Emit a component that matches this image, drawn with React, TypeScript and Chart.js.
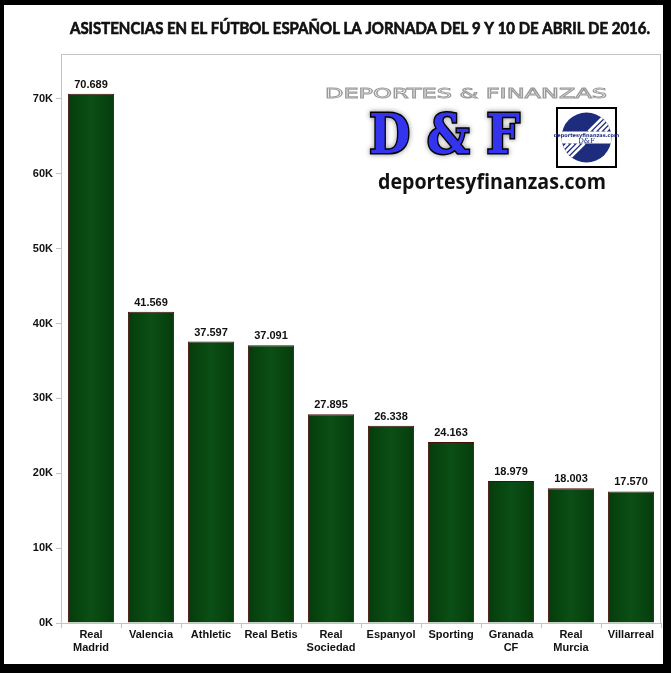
import React, { useEffect, useRef } from "react";
import { Chart, registerables } from "chart.js";
Chart.register(...registerables);

const TITLE = "ASISTENCIAS EN EL FÚTBOL ESPAÑOL LA JORNADA DEL 9 Y 10 DE ABRIL DE 2016.";
const teams: string[][] = [
  ["Real", "Madrid"],
  ["Valencia"],
  ["Athletic"],
  ["Real Betis"],
  ["Real", "Sociedad"],
  ["Espanyol"],
  ["Sporting"],
  ["Granada", "CF"],
  ["Real", "Murcia"],
  ["Villarreal"],
];
const attendance = [70689, 41569, 37597, 37091, 27895, 26338, 24163, 18979, 18003, 17570];
const yTickValues = [0, 10000, 20000, 30000, 40000, 50000, 60000, 70000];
const Y_MAX = 76000;
const brandTop = "DEPORTES & FINANZAS";
const brandMid = "D & F";
const brandUrl = "deportesyfinanzas.com";
const logoTiny = "deportesyfinanzas.com";
const logoMark = "D&F";

const W = 671;
const H = 673;
const FONT = '"Liberation Sans", Arial, sans-serif';

function fmt(n: number): string {
  return String(n).replace(/\B(?=(\d{3})+(?!\d))/g, ".");
}

function fitText(ctx: CanvasRenderingContext2D, text: string, x: number, y: number, width: number, mode: "fill" | "stroke" | "both") {
  const m = ctx.measureText(text).width;
  const sx = width / m;
  ctx.save();
  ctx.translate(x, y);
  ctx.scale(sx, 1);
  if (mode === "fill" || mode === "both") ctx.fillText(text, 0, 0);
  if (mode === "stroke" || mode === "both") ctx.strokeText(text, 0, 0);
  ctx.restore();
}

const framePlugin = {
  id: "frame",
  beforeDraw(chart: any) {
    const ctx = chart.ctx as CanvasRenderingContext2D;
    ctx.save();
    ctx.fillStyle = "#000";
    ctx.fillRect(0, 0, W, H);
    ctx.fillStyle = "#fff";
    ctx.fillRect(4, 5, 659, 659);
    ctx.restore();
  },
  afterDraw(chart: any) {
    const ctx = chart.ctx as CanvasRenderingContext2D;
    const a = chart.chartArea;
    ctx.save();
    ctx.strokeStyle = "#c4c4c4";
    ctx.lineWidth = 1;
    ctx.strokeRect(Math.round(a.left) + 0.5, Math.round(a.top) + 0.5, Math.round(a.right - a.left) - 1, Math.round(a.bottom - a.top));
    // title
    ctx.fillStyle = "#111";
    ctx.strokeStyle = "#111";
    ctx.lineWidth = 0.7;
    ctx.font = 'bold 17px Lato, "Open Sans", sans-serif';
    ctx.textBaseline = "alphabetic";
    fitText(ctx, TITLE, 70, 34, 580, "both");

    // watermark: top line
    ctx.font = '14px "DejaVu Sans", sans-serif';
    ctx.strokeStyle = "#9a9a9a";
    ctx.lineWidth = 0.9;
    ctx.fillStyle = "#fff";
    fitText(ctx, brandTop, 325, 98, 282, "both");

    // D & F
    ctx.font = 'bold 54px "DejaVu Serif", serif';
    const g = ctx.createLinearGradient(0, 112, 0, 154);
    g.addColorStop(0, "#3434ee");
    g.addColorStop(1, "#0b0bb4");
    ctx.fillStyle = g;
    ctx.strokeStyle = "#000";
    ctx.lineWidth = 3;
    ctx.save();
    ctx.shadowColor = "rgba(0,0,0,0.5)";
    ctx.shadowBlur = 5;
    fitText(ctx, brandMid, 369, 153, 151, "stroke");
    ctx.restore();
    fitText(ctx, brandMid, 369, 153, 151, "fill");

    // logo box
    ctx.fillStyle = "#fff";
    ctx.fillRect(556, 107, 61, 61);
    ctx.strokeStyle = "#000";
    ctx.lineWidth = 2;
    ctx.strokeRect(557, 108, 59, 59);
    const cx = 586.5, cy = 137.5, r = 25;
    ctx.save();
    ctx.beginPath();
    ctx.arc(cx, cy, r, 0, Math.PI * 2);
    ctx.fillStyle = "#1d2c7c";
    ctx.fill();
    ctx.clip();
    ctx.strokeStyle = "#fff";
    ctx.lineWidth = 2.5;
    for (let i = 0; i < 4; i++) {
      const o = i * 5.5;
      ctx.beginPath();
      ctx.moveTo(cx + 2 + o, cy - 6);
      ctx.lineTo(cx + 22 + o, cy - 26);
      ctx.stroke();
      ctx.beginPath();
      ctx.moveTo(cx - 2 - o, cy + 6);
      ctx.lineTo(cx - 22 - o, cy + 26);
      ctx.stroke();
    }
    ctx.fillStyle = "#fff";
    ctx.fillRect(cx - r, cy - 6, 2 * r, 12);
    ctx.restore();
    ctx.fillStyle = "#1d2c7c";
    ctx.font = 'bold 5px "DejaVu Sans", sans-serif';
    ctx.textAlign = "center";
    ctx.fillText(logoTiny, cx, cy - 1);
    ctx.font = '7px "DejaVu Serif", serif';
    ctx.fillText(logoMark, cx, cy + 5);
    ctx.textAlign = "left";

    // url
    ctx.fillStyle = "#111";
    ctx.font = 'bold 22px "Open Sans", sans-serif';
    fitText(ctx, brandUrl, 378, 189, 228, "fill");
    ctx.restore();
  },
  afterDatasetsDraw(chart: any) {
    const ctx = chart.ctx as CanvasRenderingContext2D;
    const meta = chart.getDatasetMeta(0);
    ctx.save();
    ctx.fillStyle = "#111";
    ctx.font = `bold 11px ${FONT}`;
    ctx.textAlign = "center";
    ctx.textBaseline = "alphabetic";
    meta.data.forEach((el: any, i: number) => {
      ctx.fillText(fmt(attendance[i]), el.x, el.y - 6);
    });
    ctx.restore();
  },
};

export default function App() {
  const ref = useRef<HTMLCanvasElement>(null);
  useEffect(() => {
    const canvas = ref.current!;
    const BAR_PCT = 0.77;
    const chart = new Chart(canvas, {
      type: "bar",
      data: {
        labels: teams,
        datasets: [
          {
            data: attendance,
            backgroundColor: (c: any) => {
              const ch = c.chart;
              if (!ch.chartArea) return "#094812";
              const xs = ch.scales.x;
              const cx = xs.getPixelForValue(c.dataIndex);
              const half = ((xs.width / teams.length) * BAR_PCT) / 2;
              const gr = ch.ctx.createLinearGradient(cx - half, 0, cx + half, 0);
              gr.addColorStop(0, "#053c0c");
              gr.addColorStop(0.5, "#0b4f15");
              gr.addColorStop(1, "#053c0c");
              return gr;
            },
            borderColor: "#4a0d0a",
            borderWidth: 1,
            barPercentage: BAR_PCT,
            categoryPercentage: 1,
          },
        ],
      },
      options: {
        responsive: false,
        animation: false,
        devicePixelRatio: 1,
        layout: { padding: { left: 0, top: 54, right: 10, bottom: 0 } },
        plugins: { legend: { display: false }, title: { display: false }, tooltip: { enabled: false } },
        scales: {
          x: {
            grid: { display: true, drawOnChartArea: false, drawTicks: true, tickLength: 5, color: "#c4c4c4", offset: true },
            border: { display: false },
            ticks: { font: { family: FONT, size: 11, weight: "bold" }, color: "#111", padding: 0, maxRotation: 0, autoSkip: false },
            afterFit: (s: any) => {
              s.height = 50;
            },
          },
          y: {
            min: 0,
            max: Y_MAX,
            grid: { display: true, drawOnChartArea: false, drawTicks: true, tickLength: 5, color: "#c4c4c4" },
            border: { display: false },
            ticks: {
              font: { family: FONT, size: 11, weight: "bold" },
              color: "#111",
              padding: 3,
              callback: (v: any) => `${Number(v) / 1000}K`,
            },
            afterBuildTicks: (s: any) => {
              s.ticks = yTickValues.map((v) => ({ value: v }));
            },
            afterFit: (s: any) => {
              s.width = 61;
            },
          },
        },
      },
      plugins: [framePlugin],
    } as any);
    return () => chart.destroy();
  }, []);
  return (
    <div style={{ position: "absolute", left: 0, top: 0, width: W, height: H }}>
      <canvas ref={ref} width={W} height={H} style={{ display: "block", width: W, height: H }} />
    </div>
  );
}
